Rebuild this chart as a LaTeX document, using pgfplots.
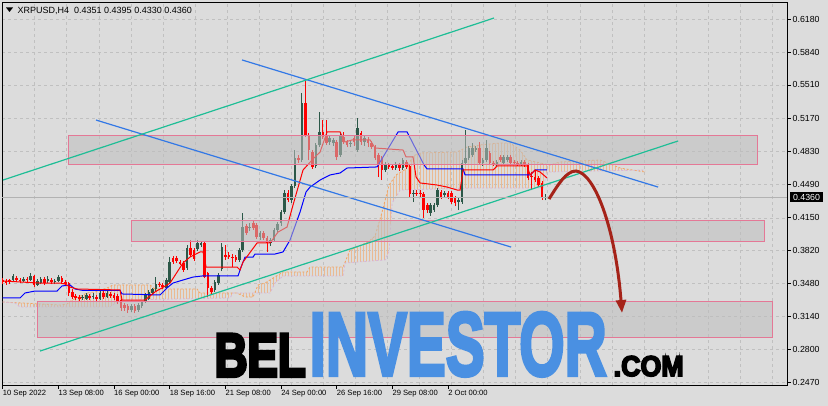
\documentclass[border=0pt]{standalone}
\usepackage{graphicx}
\usepackage{pgfplots}
\pgfplotsset{compat=1.18}
\usepackage{pgfplotstable}
\usetikzlibrary{patterns,arrows.meta}
\usepackage{fontspec}
\setmainfont{Liberation Sans}
\newfontfamily\logofont{Liberation Sans}[BoldFeatures={FakeBold=4}]
\newfontfamily\logofontB{Liberation Sans}[BoldFeatures={FakeBold=6}]

\definecolor{bgcol}{RGB}{220,220,220}
\definecolor{gridcol}{RGB}{192,192,192}
\definecolor{bullcol}{RGB}{44,88,72}
\definecolor{bearcol}{RGB}{255,0,0}
\definecolor{boxfill}{RGB}{190,190,190}
\definecolor{boxedge}{RGB}{228,120,150}
\definecolor{tlblue}{RGB}{50,120,230}
\definecolor{tlgreen}{RGB}{30,190,150}
\definecolor{spanAcol}{RGB}{244,164,96}
\definecolor{spanBcol}{RGB}{216,180,216}
\definecolor{arrowcol}{RGB}{165,35,25}
\definecolor{logoblue}{RGB}{74,144,226}

\pgfplotstableread{
i o h l c
3 0.3514 0.3575 0.3504 0.3555
6 0.3504 0.3544 0.3494 0.3524
8 0.3514 0.3585 0.3504 0.3555
10 0.3463 0.3524 0.3453 0.3504
11 0.3483 0.3544 0.3473 0.3524
13 0.3504 0.3555 0.3483 0.3524
15 0.3494 0.3524 0.3473 0.3504
16 0.3504 0.3565 0.3494 0.3544
23 0.3330 0.3361 0.3309 0.3340
24 0.3320 0.3381 0.3309 0.3361
26 0.3340 0.3381 0.3320 0.3350
28 0.3320 0.3402 0.3309 0.3381
30 0.3340 0.3402 0.3330 0.3381
37 0.3207 0.3268 0.3187 0.3248
39 0.3207 0.3278 0.3187 0.3258
40 0.3248 0.3299 0.3227 0.3289
41 0.3289 0.3381 0.3278 0.3361
42 0.3320 0.3412 0.3309 0.3392
43 0.3381 0.3432 0.3361 0.3422
44 0.3422 0.3545 0.3401 0.3473
47 0.3432 0.3534 0.3422 0.3514
48 0.3494 0.3749 0.3483 0.3698
53 0.3637 0.3872 0.3616 0.3842
56 0.3831 0.3923 0.3811 0.3893
57 0.3872 0.3913 0.3852 0.3893
61 0.3412 0.3514 0.3392 0.3494
62 0.3483 0.3586 0.3463 0.3565
63 0.3627 0.3893 0.3606 0.3852
68 0.3719 0.3842 0.3698 0.3821
69 0.3821 0.4200 0.3801 0.4056
71 0.4046 0.4097 0.4015 0.4056
74 0.3954 0.4015 0.3923 0.3995
77 0.3893 0.3944 0.3862 0.3923
78 0.3923 0.4046 0.3903 0.4026
79 0.4026 0.4108 0.4005 0.4087
80 0.4097 0.4230 0.4067 0.4210
81 0.4210 0.4435 0.4189 0.4404
83 0.4333 0.4496 0.4302 0.4476
84 0.4476 0.4844 0.4455 0.4763
86 0.4742 0.5428 0.4722 0.5326
90 0.4681 0.4916 0.4660 0.4896
91 0.4896 0.5234 0.4875 0.5029
94 0.4926 0.4988 0.4896 0.4967
95 0.4916 0.4967 0.4886 0.4947
97 0.4793 0.5018 0.4773 0.4998
100 0.4906 0.4937 0.4875 0.4916
102 0.4844 0.5172 0.4824 0.5070
104 0.4926 0.4988 0.4886 0.4967
110 0.4640 0.4722 0.4619 0.4691
113 0.4660 0.4722 0.4640 0.4691
115 0.4660 0.4763 0.4640 0.4742
118 0.4394 0.4435 0.4312 0.4404
123 0.4200 0.4302 0.4169 0.4282
124 0.4230 0.4302 0.4210 0.4282
125 0.4282 0.4456 0.4261 0.4435
127 0.4384 0.4425 0.4363 0.4404
131 0.4312 0.4353 0.4230 0.4333
132 0.4312 0.4742 0.4292 0.4712
133 0.4712 0.5049 0.4691 0.4763
134 0.4763 0.4886 0.4742 0.4865
135 0.4793 0.4916 0.4773 0.4865
136 0.4844 0.4885 0.4824 0.4865
138 0.4712 0.4763 0.4681 0.4742
139 0.4742 0.4947 0.4722 0.4865
142 0.4701 0.4742 0.4681 0.4722
144 0.4712 0.4793 0.4691 0.4773
145 0.4742 0.4793 0.4722 0.4773
149 0.4701 0.4742 0.4681 0.4722
156 0.4351 0.4395 0.4330 0.4360
}\bull

\pgfplotstableread{
i o h l c
0 0.3514 0.3534 0.3473 0.3494
1 0.3504 0.3524 0.3463 0.3483
2 0.3514 0.3524 0.3473 0.3494
4 0.3534 0.3555 0.3494 0.3514
5 0.3514 0.3534 0.3483 0.3504
7 0.3524 0.3544 0.3483 0.3514
9 0.3555 0.3565 0.3442 0.3463
12 0.3524 0.3544 0.3463 0.3483
14 0.3514 0.3534 0.3473 0.3494
17 0.3534 0.3555 0.3473 0.3494
18 0.3494 0.3514 0.3453 0.3473
19 0.3483 0.3494 0.3350 0.3381
20 0.3391 0.3422 0.3320 0.3340
21 0.3350 0.3371 0.3309 0.3330
22 0.3340 0.3361 0.3299 0.3320
25 0.3350 0.3371 0.3309 0.3330
27 0.3340 0.3361 0.3299 0.3320
29 0.3381 0.3402 0.3320 0.3340
31 0.3371 0.3392 0.3330 0.3350
32 0.3361 0.3381 0.3309 0.3330
33 0.3350 0.3371 0.3268 0.3299
34 0.3309 0.3320 0.3197 0.3227
35 0.3258 0.3278 0.3197 0.3227
36 0.3248 0.3268 0.3176 0.3207
38 0.3248 0.3268 0.3176 0.3197
45 0.3473 0.3494 0.3442 0.3463
46 0.3463 0.3483 0.3422 0.3442
49 0.3739 0.3760 0.3678 0.3698
50 0.3739 0.3760 0.3688 0.3709
51 0.3698 0.3719 0.3668 0.3678
52 0.3688 0.3709 0.3596 0.3616
54 0.3842 0.3923 0.3749 0.3770
55 0.3821 0.3842 0.3709 0.3729
58 0.3893 0.3913 0.3534 0.3544
59 0.3586 0.3596 0.3340 0.3432
60 0.3432 0.3453 0.3371 0.3392
64 0.3770 0.3872 0.3719 0.3749
65 0.3770 0.3801 0.3729 0.3749
66 0.3749 0.3780 0.3647 0.3744
67 0.3749 0.3770 0.3698 0.3719
70 0.4067 0.4087 0.3975 0.3995
72 0.4097 0.4118 0.4026 0.4046
73 0.4077 0.4097 0.3934 0.3954
75 0.3995 0.4015 0.3923 0.3944
76 0.3944 0.3964 0.3801 0.3893
82 0.4404 0.4435 0.4312 0.4333
85 0.4763 0.4793 0.4712 0.4742
87 0.5326 0.5561 0.4978 0.4998
88 0.4998 0.5018 0.4742 0.4844
89 0.4824 0.4844 0.4650 0.4671
92 0.5029 0.5151 0.4957 0.4978
93 0.4998 0.5151 0.4896 0.4916
96 0.4926 0.4947 0.4742 0.4773
98 0.4978 0.5029 0.4906 0.4926
99 0.4926 0.4947 0.4875 0.4896
101 0.4967 0.4988 0.4886 0.4926
103 0.5019 0.5039 0.4896 0.4926
105 0.4947 0.4978 0.4875 0.4916
106 0.4916 0.4937 0.4855 0.4875
107 0.4875 0.4896 0.4742 0.4763
108 0.4793 0.4814 0.4568 0.4691
109 0.4763 0.4783 0.4537 0.4640
111 0.4691 0.4712 0.4650 0.4671
112 0.4681 0.4701 0.4640 0.4660
114 0.4691 0.4712 0.4630 0.4660
116 0.4722 0.4742 0.4650 0.4671
117 0.4681 0.4701 0.4353 0.4394
119 0.4404 0.4435 0.4374 0.4394
120 0.4404 0.4435 0.4363 0.4399
121 0.4394 0.4415 0.4149 0.4230
122 0.4282 0.4302 0.4200 0.4230
126 0.4415 0.4435 0.4343 0.4363
128 0.4404 0.4425 0.4343 0.4363
129 0.4404 0.4425 0.4292 0.4312
130 0.4353 0.4374 0.4271 0.4302
137 0.4865 0.4926 0.4691 0.4712
140 0.4814 0.4834 0.4691 0.4712
141 0.4712 0.4732 0.4681 0.4707
143 0.4773 0.4793 0.4722 0.4742
146 0.4773 0.4793 0.4691 0.4712
147 0.4722 0.4742 0.4691 0.4707
148 0.4712 0.4732 0.4681 0.4701
150 0.4722 0.4742 0.4671 0.4691
151 0.4691 0.4712 0.4537 0.4558
152 0.4578 0.4619 0.4435 0.4563
153 0.4568 0.4640 0.4517 0.4537
154 0.4558 0.4578 0.4466 0.4486
155 0.4507 0.4527 0.4333 0.4353
}\bear

\pgfplotstablegetrowsof{\bull}\pgfmathtruncatemacro{\nbull}{\pgfplotsretval-1}
\pgfplotstablegetrowsof{\bear}\pgfmathtruncatemacro{\nbear}{\pgfplotsretval-1}

\newcommand{\candles}[3]{% table, last row, colour
  \pgfplotsinvokeforeach{0,...,#2}{%
    \pgfplotstablegetelem{##1}{i}\of{#1}\let\ci\pgfplotsretval
    \pgfplotstablegetelem{##1}{o}\of{#1}\let\co\pgfplotsretval
    \pgfplotstablegetelem{##1}{h}\of{#1}\let\ch\pgfplotsretval
    \pgfplotstablegetelem{##1}{l}\of{#1}\let\cl\pgfplotsretval
    \pgfplotstablegetelem{##1}{c}\of{#1}\let\cc\pgfplotsretval
    \edef\temp{\noexpand\addplot[#3, line width=1pt, forget plot] coordinates {(\ci,\cl) (\ci,\ch)};
      \noexpand\addplot[#3, line width=2.6pt, forget plot] coordinates {(\ci,\co) (\ci,\cc)};}%
    \temp
  }%
}

\begin{document}
\begin{tikzpicture}
\fill[bgcol] (-2pt,-21pt) rectangle (826pt,385pt);
\useasboundingbox (-2pt,-21pt) rectangle (826pt,385pt);
\begin{axis}[
  at={(0pt,0pt)}, anchor=south west,
  scale only axis, width=785pt, height=383pt,
  xmin=-0.2, xmax=225.4, ymin=0.24395, ymax=0.63591,
  axis line style={black, line width=0.9pt},
  xtick={0,16,32,48,64,80,96,112,128},
  xticklabels={10 Sep 2022,13 Sep 08:00,16 Sep 00:00,18 Sep 16:00,21 Sep 08:00,24 Sep 00:00,26 Sep 16:00,29 Sep 08:00,2 Oct 00:00},
  xtick pos=left, ytick pos=right, yticklabel pos=right,
  tick align=outside, major tick length=4pt,
  tick style={black, line width=0.8pt},
  xticklabel style={anchor=north west, inner sep=0pt, font=\fontsize{7.6}{9}\selectfont, xshift=0pt, yshift=-1pt},
  ytick={0.618,0.584,0.551,0.517,0.483,0.449,0.415,0.382,0.348,0.314,0.280,0.247},
  yticklabels={0.6180,0.5840,0.5510,0.5170,0.4830,0.4490,0.4150,0.3820,0.3480,0.3140,0.2800,0.2470},
  yticklabel style={anchor=west, inner sep=0pt, font=\fontsize{8.8}{9}\selectfont, xshift=1.5pt},
  ymajorgrids=true,
  grid style={gridcol, dash pattern=on 3pt off 3pt, line width=0.7pt},
  extra x ticks={9.215,18.43,27.645,36.86,46.075,55.29,64.505,73.72,82.935,92.15,101.365,110.58,119.795,129.01,138.225,147.44,156.655,165.87,175.085,184.3,193.515,202.73,211.945,221.16},
  extra x tick labels={},
  extra x tick style={xmajorgrids=true, major tick length=0pt},
]
% Ichimoku cloud: hatch between Senkou span A (forward) and span B (backward)
\addplot[pattern=vertical lines, pattern color=spanAcol!60!bgcol, draw=none, forget plot] coordinates {
(0,0.3289) (16.47,0.3258) (18.48,0.3268) (19.92,0.3309) (24.23,0.3381) (26.53,0.3392) (29.98,0.3432) (31.70,0.3463) (42.34,0.3463) (43.78,0.3422) (55.85,0.3422) (56.71,0.3381) (67.35,0.3381) (69.65,0.3340) (71.95,0.3340) (73.39,0.3463) (75.40,0.3483) (80.57,0.3596) (87.47,0.3596) (88.33,0.3647) (97.82,0.3647) (99.83,0.3821) (105.00,0.3903) (107.02,0.3964) (109.03,0.4210) (111.04,0.4486) (113.05,0.4589) (115.92,0.4650) (117.93,0.4783) (119.95,0.4814) (130.59,0.4824) (133.46,0.4875) (137.20,0.4896) (142.95,0.4916) (145.82,0.4916) (148.70,0.4844) (150.71,0.4742) (154.44,0.4712) (157.31,0.4691) (160.19,0.4722) (171.69,0.4742) (177.44,0.4660) (184.63,0.4619)
(184.63,0.4640) (156.45,0.4619) (155.31,0.4455) (134.32,0.4455) (114.20,0.4435) (113.05,0.4363) (111.90,0.4302) (111.04,0.3811) (109.89,0.3719) (98.39,0.3688) (97.82,0.3555) (80.57,0.3555) (78.27,0.3483) (76.83,0.3381) (66.20,0.3381) (65.34,0.3330) (33.72,0.3309) (30.84,0.3238) (4.97,0.3238) (3.54,0.3278) (0,0.3289)};
% Senkou span A
\addplot[spanAcol, line width=0.8pt, dash pattern=on 2pt off 2pt, forget plot] coordinates {
(0,0.3289) (16.47,0.3258) (18.48,0.3268) (19.92,0.3309) (24.23,0.3381) (26.53,0.3392) (29.98,0.3432) (31.70,0.3463) (42.34,0.3463) (43.78,0.3422) (55.85,0.3422) (56.71,0.3381) (67.35,0.3381) (69.65,0.3340) (71.95,0.3340) (73.39,0.3463) (75.40,0.3483) (80.57,0.3596) (87.47,0.3596) (88.33,0.3647) (97.82,0.3647) (99.83,0.3821) (105.00,0.3903) (107.02,0.3964) (109.03,0.4210) (111.04,0.4486) (113.05,0.4589) (115.92,0.4650) (117.93,0.4783) (119.95,0.4814) (130.59,0.4824) (133.46,0.4875) (137.20,0.4896) (142.95,0.4916) (145.82,0.4916) (148.70,0.4844) (150.71,0.4742) (154.44,0.4712) (157.31,0.4691) (160.19,0.4722) (171.69,0.4742) (177.44,0.4660) (184.63,0.4619)};
% Senkou span B
\addplot[spanBcol, line width=0.8pt, dash pattern=on 2pt off 2pt, forget plot] coordinates {
(0,0.3289) (3.54,0.3278) (4.97,0.3238) (30.84,0.3238) (33.72,0.3309) (65.34,0.3330) (66.20,0.3381) (76.83,0.3381) (78.27,0.3483) (80.57,0.3555) (97.82,0.3555) (98.39,0.3688) (109.89,0.3719) (111.04,0.3811) (111.90,0.4302) (113.05,0.4363) (114.20,0.4435) (134.32,0.4455) (155.31,0.4455) (156.45,0.4619) (184.63,0.4640)};
% candles
\candles{\bull}{\nbull}{bullcol}
\candles{\bear}{\nbear}{bearcol}
% Kijun-sen
\addplot[blue, line width=1pt] coordinates {
(0,0.3330) (4.97,0.3330) (6.41,0.3381) (9.28,0.3401) (15.61,0.3401) (17.05,0.3453) (19.34,0.3463) (20.78,0.3422) (23.08,0.3407) (33.72,0.3407) (34.29,0.3371) (45.21,0.3361) (47.51,0.3442) (48.95,0.3483) (51.82,0.3514) (54.70,0.3544) (57.29,0.3555) (67.63,0.3555) (68.50,0.3647) (69.65,0.3749) (71.95,0.3749) (72.52,0.3780) (78.27,0.3780) (80.57,0.3801) (82.58,0.3923) (85.46,0.4210) (87.18,0.4415) (88.33,0.4465) (91.21,0.4537) (94.08,0.4589) (96.95,0.4609) (98.97,0.4660) (107.59,0.4671) (113.63,0.5029) (116.21,0.5029) (121.10,0.4691) (121.96,0.4650) (132.31,0.4650) (132.88,0.4589) (151.57,0.4589) (153.00,0.4640) (156.45,0.4640)};
% Tenkan-sen
\addplot[red, line width=1pt] coordinates {
(0,0.3504) (4.97,0.3494) (10.72,0.3483) (16.47,0.3483) (17.91,0.3473) (19.34,0.3442) (21.36,0.3422) (33.72,0.3412) (34.29,0.3309) (40.90,0.3309) (42.34,0.3350) (43.78,0.3392) (47.22,0.3463) (48.09,0.3483) (51.82,0.3688) (53.84,0.3749) (56.71,0.3801) (57.58,0.3801) (58.44,0.3647) (67.35,0.3647) (68.21,0.3616) (69.07,0.3698) (73.10,0.3893) (76.83,0.3893) (79.13,0.4005) (81.72,0.4056) (83.44,0.4282) (86.32,0.4640) (89.19,0.4753) (91.21,0.4824) (93.22,0.5029) (96.95,0.5029) (98.39,0.4926) (100.40,0.4947) (105.58,0.4947) (107.02,0.4865) (115.06,0.4844) (115.92,0.4773) (117.93,0.4773) (118.80,0.4568) (119.95,0.4507) (124.84,0.4486) (127.72,0.4465) (130.59,0.4435) (131.45,0.4435) (132.31,0.4640) (140.93,0.4640) (142.09,0.4681) (150.71,0.4681) (151.57,0.4589) (153.00,0.4640) (154.44,0.4619) (156.45,0.4558)};
% support / resistance zones
\addplot[fill=boxfill, fill opacity=0.55, draw=boxedge, line width=1pt] coordinates {(18.77,0.4691) (216.8,0.4691) (216.8,0.4988) (18.77,0.4988) (18.77,0.4691)};
\addplot[fill=boxfill, fill opacity=0.55, draw=boxedge, line width=1pt] coordinates {(36.88,0.3913) (218.8,0.3913) (218.8,0.4128) (36.88,0.4128) (36.88,0.3913)};
\addplot[fill=boxfill, fill opacity=0.55, draw=boxedge, line width=1pt] coordinates {(9.86,0.2921) (221.1,0.2921) (221.1,0.3299) (9.86,0.3299) (9.86,0.2921)};
% trend lines
\addplot[tlblue, line width=1.2pt] coordinates {(68.78,0.5766) (188.36,0.4465)};
\addplot[tlblue, line width=1.2pt] coordinates {(26.82,0.5151) (146.11,0.3851)};
\addplot[tlgreen, line width=1.2pt] coordinates {(0.09,0.4537) (141.2,0.6195)};
\addplot[tlgreen, line width=1.2pt] coordinates {(10.72,0.2787) (194.1,0.4937)};
% current price line
\addplot[gray!60, line width=0.6pt] coordinates {(-0.2,0.4360) (225.4,0.4360)};
\end{axis}
% title
\fill[black] (4pt,377.5pt) -- (11pt,377.5pt) -- (7.5pt,373pt) -- cycle;
\node[anchor=base west, inner sep=0pt, font=\fontsize{9}{10}\selectfont] at (15.5pt,371pt) {XRPUSD,H4\ \ 0.4351 0.4395 0.4330 0.4360};
% price marker
\fill[black] (788pt,182.7pt) rectangle (821pt,192.5pt);
\node[text=white, inner sep=0pt, font=\fontsize{8.8}{9}\selectfont] at (804.5pt,187.6pt) {0.4360};
% forecast arrow
\draw[arrowcol, line width=3pt, -{Triangle[length=13pt, width=10pt]}]
  (547pt,186pt) .. controls (556pt,200pt) and (564pt,214pt) .. (574pt,214pt)
  .. controls (592pt,212pt) and (613pt,160pt) .. (620pt,72pt);
% logo
\node[anchor=south west, inner sep=0pt] at (212.5pt,8.5pt) {\resizebox{91pt}{42pt}{\logofontB\bfseries BEL}};
\node[anchor=south west, inner sep=0pt, text=logoblue] at (307.5pt,8.5pt) {\resizebox{297pt}{63pt}{\logofont\bfseries INVESTOR}};
\node[anchor=south west, inner sep=0pt] at (611.5pt,8.5pt) {\resizebox{70pt}{20pt}{\logofontB\bfseries .COM}};
\end{tikzpicture}
\end{document}
